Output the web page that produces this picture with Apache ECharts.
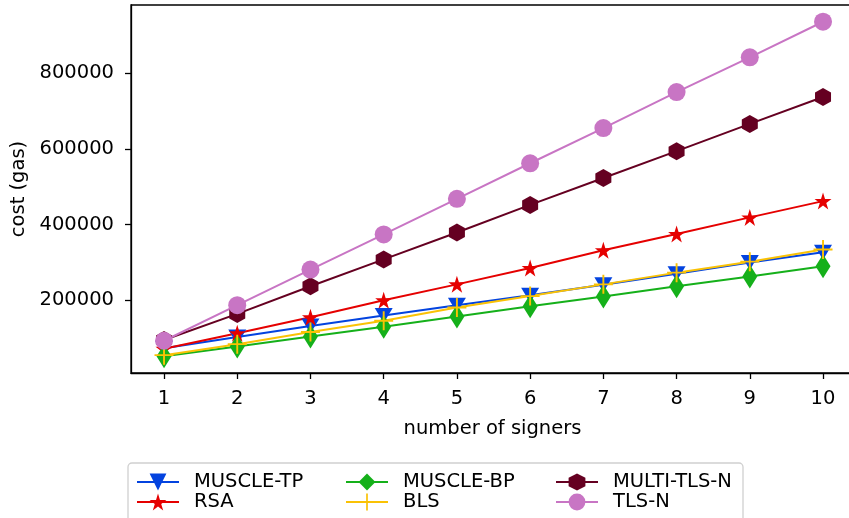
<!DOCTYPE html>
<html>
<head>
<meta charset="utf-8">
<script src="https://cdn.jsdelivr.net/npm/echarts@6/dist/echarts.min.js"></script>
<style>
  html, body { margin: 0; padding: 0; background: #fff; }
  #main { width: 849px; height: 518px; }
</style>
</head>
<body>
<div id="main"></div>
<script>
var signers = [1, 2, 3, 4, 5, 6, 7, 8, 9, 10];
var yTicks = [200000, 400000, 600000, 800000];

var muscleTP = [73000, 103000, 132000, 160000, 187000, 213000, 241000, 270000, 300000, 327000];
var rsa = [72000, 113000, 155000, 200000, 242000, 285000, 332000, 375000, 419000, 462000];
var muscleBP = [52000, 78000, 104000, 130000, 157000, 184000, 210000, 237000, 263000, 290000];
var bls = [55000, 84000, 116000, 146000, 181000, 211000, 242000, 273000, 302000, 334000];
var multiTlsN = [95000, 164000, 237000, 308000, 379000, 452000, 523000, 594000, 666000, 737000];
var tlsN = [93000, 187000, 281000, 374000, 468000, 562000, 655000, 750000, 842000, 936000];

var FONT = 'DejaVu Sans';
var FS = 19.5;
var STAR = 'path://M0,-1 L0.2245,-0.309 L0.951,-0.309 L0.363,0.118 L0.588,0.809 L0,0.382 L-0.588,0.809 L-0.363,0.118 L-0.951,-0.309 L-0.2245,-0.309 Z';
var PLUS = 'path://M-1,-10 L1,-10 L1,-1 L10,-1 L10,1 L1,1 L1,10 L-1,10 L-1,1 L-10,1 L-10,-1 L-1,-1 Z';
var HEX = 'path://M0,-1 L0.866,-0.5 L0.866,0.5 L0,1 L-0.866,0.5 L-0.866,-0.5 Z';

function pairs(vals) {
    return signers.map(function (s, i) { return [s, vals[i]]; });
}

function makeSeries(name, vals, color, symbol, size, rotate) {
    return {
        name: name,
        type: 'line',
        data: pairs(vals),
        symbol: symbol,
        symbolSize: size,
        symbolRotate: rotate || 0,
        showAllSymbol: true,
        lineStyle: { color: color, width: 2 },
        itemStyle: { color: color },
        emphasis: { disabled: true },
        animation: false
    };
}

var allVals = [].concat(muscleTP, rsa, muscleBP, bls, multiTlsN, tlsN);
var lo = Math.min.apply(null, allVals), hi = Math.max.apply(null, allVals);
var pad = (hi - lo) * 0.05;

function legendCol(left, names) {
    return {
        orient: 'vertical',
        left: left,
        top: 472,
        itemWidth: 42,
        itemHeight: 21,
        itemGap: 0,
        padding: 0,
        data: names,
        textStyle: { fontFamily: FONT, fontSize: FS, color: '#000', lineHeight: 20, padding: [0, 0, 0, 10] }
    };
}

function plain(v) { return String(v); }

var myChart = echarts.init(document.getElementById('main'));
var option = {
    backgroundColor: '#fff',
    animation: false,
    textStyle: { fontFamily: FONT },
    grid: {
        left: 131, right: -5, top: 5, bottom: 145,
        outerBoundsMode: 'none',
        show: true, borderColor: '#000', borderWidth: 1.3
    },
    graphic: [{
        type: 'rect',
        shape: { x: 128, y: 463, width: 615, height: 60, r: 4 },
        style: { fill: '#fff', stroke: '#d0d0d0', lineWidth: 1.3 },
        z: -1
    }],
    legend: [
        legendCol(136, ['MUSCLE-TP', 'RSA']),
        legendCol(345, ['MUSCLE-BP', 'BLS']),
        legendCol(555, ['MULTI-TLS-N', 'TLS-N'])
    ],
    xAxis: {
        type: 'value',
        min: 0.549,
        max: 10.423,
        name: 'number of signers',
        nameLocation: 'middle',
        nameGap: 46,
        nameTextStyle: { fontFamily: FONT, fontSize: FS, color: '#000' },
        splitLine: { show: false },
        axisLine: { lineStyle: { color: '#000', width: 1.3 } },
        axisTick: { customValues: signers, length: 6, lineStyle: { color: '#000', width: 1.3 } },
        axisLabel: { customValues: signers, formatter: plain, margin: 16, fontFamily: FONT, fontSize: FS, color: '#000' }
    },
    yAxis: {
        type: 'value',
        min: lo - pad,
        max: hi + pad,
        name: 'cost (gas)',
        nameLocation: 'middle',
        nameGap: 100,
        nameTextStyle: { fontFamily: FONT, fontSize: FS, color: '#000' },
        splitLine: { show: false },
        axisLine: { show: true, lineStyle: { color: '#000', width: 1.3 } },
        axisTick: { show: true, customValues: yTicks, length: 6, lineStyle: { color: '#000', width: 1.3 } },
        axisLabel: { customValues: yTicks, formatter: plain, margin: 17, fontFamily: FONT, fontSize: FS, color: '#000' }
    },
    series: [
        makeSeries('MUSCLE-TP', muscleTP, '#0343df', 'triangle', [18, 15], 180),
        makeSeries('RSA', rsa, '#e50000', STAR, 17),
        makeSeries('MUSCLE-BP', muscleBP, '#15b01a', 'diamond', [15, 24]),
        makeSeries('BLS', bls, '#fac205', PLUS, 19),
        makeSeries('MULTI-TLS-N', multiTlsN, '#650021', HEX, [16, 18]),
        makeSeries('TLS-N', tlsN, '#c875c4', 'circle', 18)
    ]
};
myChart.setOption(option);
</script>
</body>
</html>
